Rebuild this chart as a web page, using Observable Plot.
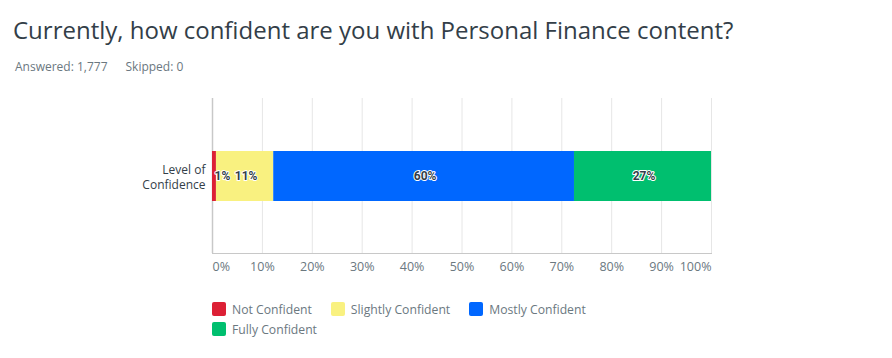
<!DOCTYPE html>
<html>
<head>
<meta charset="utf-8">
<script src="https://cdn.jsdelivr.net/npm/d3@7"></script>
<script src="https://cdn.jsdelivr.net/npm/@observablehq/plot@0.6"></script>
<style>
  html, body { margin: 0; padding: 0; background: #fff; }
  #wrap { position: relative; width: 892px; height: 358px; font-family: "Open Sans", sans-serif; overflow: hidden; }
  #title { position: absolute; left: 13px; top: 15px; font-size: 24px; line-height: 30px; color: #333e48; white-space: nowrap; }
  #sub { position: absolute; left: 15px; top: 58px; font-size: 12px; line-height: 18px; color: #6b787f; white-space: nowrap; }
  #sub span + span { margin-left: 18px; }
  #chart { position: absolute; left: 0; top: 85px; }
  #legend { position: absolute; left: 212px; top: 299px; width: 430px; display: flex; flex-wrap: wrap; font-size: 12.2px; color: #6b787f; }
  .item { display: flex; align-items: center; height: 20px; margin-right: 19px; }
  .sw { width: 14px; height: 14px; border-radius: 2px; margin-right: 6px; }
</style>
</head>
<body>
<div id="wrap">
  <div id="title"></div>
  <div id="sub"></div>
  <div id="chart"></div>
  <div id="legend"></div>
</div>
<script>
const titleText = "Currently, how confident are you with Personal Finance content?";
const subtitleParts = ["Answered: 1,777", "Skipped: 0"];
const question = ["Level of\nConfidence"];
const responses = ["Not Confident", "Slightly Confident", "Mostly Confident", "Fully Confident"];
const percents = [0.79, 11.48, 60.27, 27.46];
const barLabels = ["1%", "11%", "60%", "27%"];
const colors = ["#dc2035", "#f9f180", "#0067ff", "#00bf6f"];
const xTicks = [0, 10, 20, 30, 40, 50, 60, 70, 80, 90, 100];

document.getElementById("title").textContent = titleText;
document.getElementById("sub").innerHTML = subtitleParts.map(s => `<span>${s}</span>`).join("");

let acc = 0;
const rows = responses.map((r, i) => {
  const start = acc; acc += percents[i];
  return {q: question[0], response: r, value: percents[i], label: barLabels[i], start, mid: start + percents[i] / 2};
});
const stacked = Plot.stackX({x: "value", y: "q", fill: "response", order: null});

const W = 892, left = 212, right = 711;
const labelStyle = {fill: "#333e48", stroke: "white", strokeWidth: 2, fontWeight: 700, fontSize: 12, fontFamily: "Roboto, sans-serif", letterSpacing: "-0.4px"};

const chart = Plot.plot({
  width: W,
  height: 200,
  marginLeft: left,
  marginRight: W - right,
  marginTop: 13,
  marginBottom: 32,
  style: {fontFamily: "Open Sans, sans-serif", fontSize: "12.5px", background: "transparent"},
  x: {domain: [0, 100], axis: null},
  y: {domain: question, paddingInner: 0, paddingOuter: 1.05, label: null},
  color: {domain: responses, range: colors},
  marks: [
    Plot.ruleX(xTicks.slice(1), {x: d => d, stroke: "#e6e6e6", strokeWidth: 1}),
    Plot.frame({anchor: "bottom", stroke: "#c8c8c8"}),
    Plot.ruleX([0], {stroke: "#c8c8c8", strokeWidth: 1.5}),
    Plot.barX(rows, {...stacked}),
    Plot.text(rows.filter(d => d.value >= 3), {x: "mid", y: "q", text: "label", dx: 1, ...labelStyle}),
    Plot.text(rows.filter(d => d.value < 3), {x: "start", y: "q", text: "label", textAnchor: "start", dx: 2, ...labelStyle}),
    Plot.axisY({tickSize: 0, tickPadding: 7, fill: "#333e48", fontSize: 12, lineHeight: 1.25, label: null}),
    Plot.text(xTicks.filter(t => t > 0 && t < 100), {x: d => d, text: d => d + "%", frameAnchor: "bottom", dy: 17, fill: "#6b787f"}),
    Plot.text([0], {x: d => d, text: d => d + "%", frameAnchor: "bottom", dy: 17, textAnchor: "start", fill: "#6b787f"}),
    Plot.text([100], {x: d => d, text: d => d + "%", frameAnchor: "bottom", dy: 17, textAnchor: "end", fill: "#6b787f"})
  ]
});
document.getElementById("chart").appendChild(chart);

const legend = document.getElementById("legend");
responses.forEach((r, i) => {
  const it = document.createElement("div");
  it.className = "item";
  it.innerHTML = `<div class="sw" style="background:${colors[i]}"></div><span>${r}</span>`;
  legend.appendChild(it);
});
</script>
</body>
</html>
